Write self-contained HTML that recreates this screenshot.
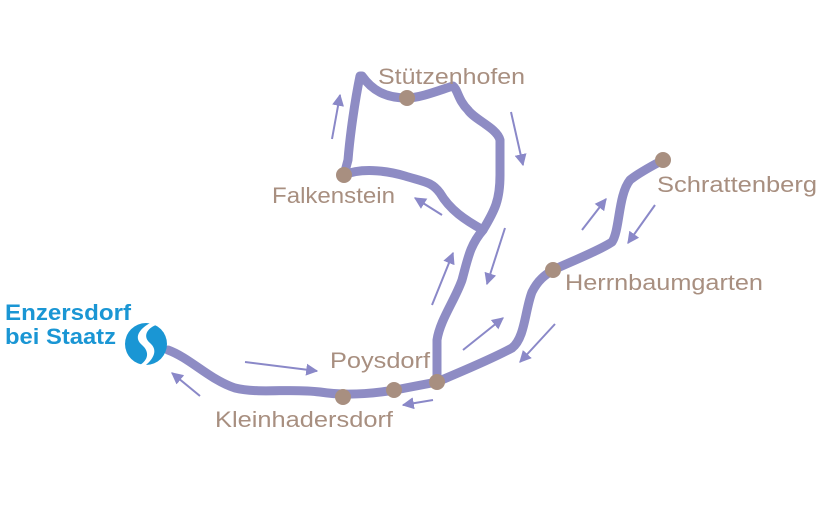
<!DOCTYPE html>
<html><head><meta charset="utf-8"><style>
html,body{margin:0;padding:0;background:#fff;}
svg{display:block;}
text{font-family:"Liberation Sans",sans-serif;}
</style></head><body>
<svg width="821" height="527" viewBox="0 0 821 527" xmlns="http://www.w3.org/2000/svg">
<defs>
<marker id="a" viewBox="0 0 10 10" refX="9" refY="5" markerWidth="6" markerHeight="6" orient="auto">
<path d="M0,0 L10,5 L0,10 Z" fill="#8a88c8"/></marker>
</defs>
<g fill="none" stroke="#8e8cc4" stroke-width="9" stroke-linejoin="round" stroke-linecap="round">
<path d="M168,350 C190,358 210,380 235,388 C260,394 290,388 320,392 C345,396 370,394 395,390 L437,382"/>
<path d="M437,382 L437,340 C440,320 455,300 462,280 C468,258 470,245 483,230 C495,210 500,200 500,175 L500,140 C497,128 475,120 468,110 C458,100 458,90 453,86 C440,90 420,98 407,98 C385,98 372,90 362,76 L360,76 C355,100 350,135 348,160 L344,175"/>
<path d="M344,175 C360,168 385,170 405,176 C425,182 432,182 440,193 C450,210 465,220 483,230"/>
<path d="M437,382 C460,372 490,360 512,348 C525,338 525,310 532,292 C538,280 545,275 553,270 C575,260 600,250 612,242 C620,230 618,195 630,180 C640,172 652,166 663,160"/>
</g>
<g fill="#a88f80">
<circle cx="343" cy="397" r="8"/><circle cx="394" cy="390" r="8"/><circle cx="437" cy="382" r="8"/>
<circle cx="407" cy="98" r="8"/><circle cx="344" cy="175" r="8"/>
<circle cx="553" cy="270" r="8"/><circle cx="663" cy="160" r="8"/>
</g>
<g stroke="#8a88c8" stroke-width="2" fill="none" marker-end="url(#a)">
<line x1="245" y1="362" x2="317" y2="371"/>
<line x1="200" y1="396" x2="172" y2="373"/>
<line x1="433" y1="400" x2="403" y2="405"/>
<line x1="442" y1="215" x2="415" y2="198"/>
<line x1="332" y1="139" x2="340" y2="95"/>
<line x1="511" y1="112" x2="523" y2="165"/>
<line x1="505" y1="228" x2="487" y2="284"/>
<line x1="432" y1="305" x2="453" y2="253"/>
<line x1="463" y1="350" x2="503" y2="318"/>
<line x1="555" y1="324" x2="520" y2="362"/>
<line x1="582" y1="230" x2="606" y2="199"/>
<line x1="655" y1="205" x2="628" y2="243"/>
</g>
<g fill="#a88f80" font-size="22">
<text x="330" y="368" textLength="100" lengthAdjust="spacingAndGlyphs">Poysdorf</text>
<text x="215" y="427" textLength="178" lengthAdjust="spacingAndGlyphs">Kleinhadersdorf</text>
<text x="272" y="203" textLength="123" lengthAdjust="spacingAndGlyphs">Falkenstein</text>
<text x="378" y="84" textLength="147" lengthAdjust="spacingAndGlyphs">Stützenhofen</text>
<text x="657" y="192" textLength="160" lengthAdjust="spacingAndGlyphs">Schrattenberg</text>
<text x="565" y="290" textLength="198" lengthAdjust="spacingAndGlyphs">Herrnbaumgarten</text>
</g>
<g fill="#1a96d4" font-size="22" font-weight="bold">
<text x="5" y="320" textLength="126" lengthAdjust="spacingAndGlyphs">Enzersdorf</text>
<text x="5" y="344" textLength="111" lengthAdjust="spacingAndGlyphs">bei Staatz</text>
</g>
<circle cx="146" cy="344" r="21" fill="#1a96d4"/>
<path d="M150,323 C138,330 134,338 142,345 C150,352 148,360 140,365 L146,365 C154,358 158,350 150,343 C143,337 146,329 156,325 Z" fill="#fff"/>
</svg>
</body></html>
